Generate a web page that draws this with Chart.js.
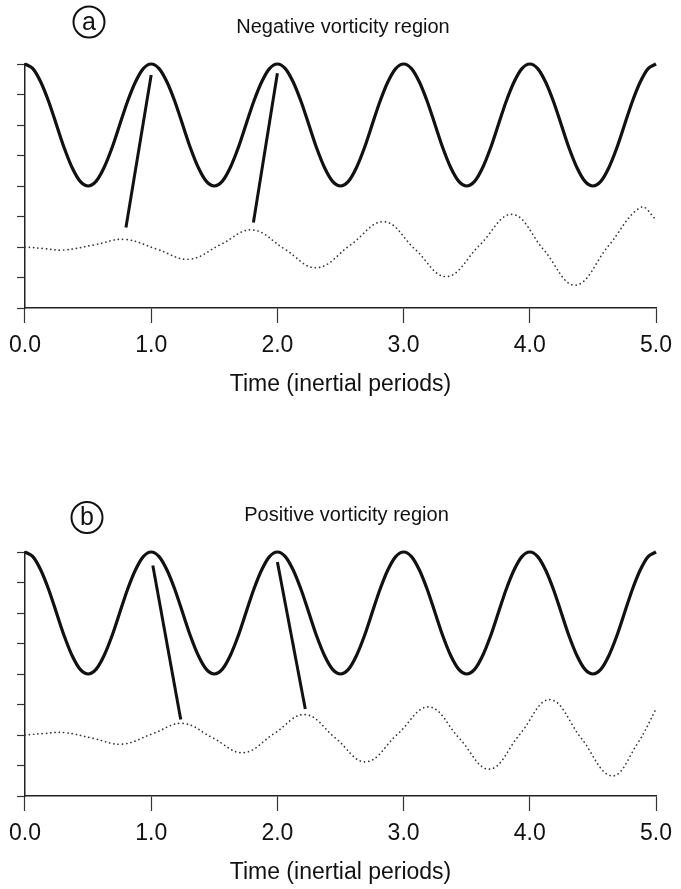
<!DOCTYPE html>
<html>
<head>
<meta charset="utf-8">
<script src="https://cdn.jsdelivr.net/npm/chart.js@4.4.0/dist/chart.umd.min.js"></script>
<style>
  body { margin: 0; background: #fff; width: 681px; height: 889px; position: relative; overflow: hidden; }
  .panel { position: absolute; left: 0; width: 681px; height: 400px; }
</style>
</head>
<body>
<div class="panel" style="top:0"><canvas id="chartA" width="681" height="400"></canvas></div>
<div class="panel" style="top:488px"><canvas id="chartB" width="681" height="400"></canvas></div>
<script>
// inertial oscillation (solid), same in both panels
const timeSolid = [
  0, 0.0625, 0.125, 0.1875, 0.25, 0.3125, 0.375, 0.4375, 0.5, 0.5625, 0.625, 0.6875, 0.75, 0.8125, 0.875, 0.9375,
  1, 1.0625, 1.125, 1.1875, 1.25, 1.3125, 1.375, 1.4375, 1.5, 1.5625, 1.625, 1.6875, 1.75, 1.8125, 1.875, 1.9375,
  2, 2.0625, 2.125, 2.1875, 2.25, 2.3125, 2.375, 2.4375, 2.5, 2.5625, 2.625, 2.6875, 2.75, 2.8125, 2.875, 2.9375,
  3, 3.0625, 3.125, 3.1875, 3.25, 3.3125, 3.375, 3.4375, 3.5, 3.5625, 3.625, 3.6875, 3.75, 3.8125, 3.875, 3.9375,
  4, 4.0625, 4.125, 4.1875, 4.25, 4.3125, 4.375, 4.4375, 4.5, 4.5625, 4.625, 4.6875, 4.75, 4.8125, 4.875, 4.9375,
  5];
const solidVals = [
  8, 7.85, 7.41, 6.77, 6, 5.23, 4.59, 4.15, 4, 4.15, 4.59, 5.23, 6, 6.77, 7.41, 7.85,
  8, 7.85, 7.41, 6.77, 6, 5.23, 4.59, 4.15, 4, 4.15, 4.59, 5.23, 6, 6.77, 7.41, 7.85,
  8, 7.85, 7.41, 6.77, 6, 5.23, 4.59, 4.15, 4, 4.15, 4.59, 5.23, 6, 6.77, 7.41, 7.85,
  8, 7.85, 7.41, 6.77, 6, 5.23, 4.59, 4.15, 4, 4.15, 4.59, 5.23, 6, 6.77, 7.41, 7.85,
  8, 7.85, 7.41, 6.77, 6, 5.23, 4.59, 4.15, 4, 4.15, 4.59, 5.23, 6, 6.77, 7.41, 7.85,
  8];

// (a) negative vorticity - dotted response
const timeNeg = [0, 0.15, 0.3, 0.55, 0.79, 1.045, 1.3, 1.55, 1.8, 2.055, 2.31, 2.58, 2.845, 3.09, 3.34, 3.6, 3.86, 4.11, 4.36, 4.62, 4.88, 5];
const valsNeg = [2.0, 1.95, 1.9, 2.07, 2.25, 1.93, 1.6, 2.08, 2.56, 1.94, 1.32, 2.07, 2.83, 1.93, 1.03, 2.05, 3.07, 1.91, 0.75, 2.02, 3.3, 2.9];

// (b) positive vorticity - dotted response
const timePos = [0, 0.15, 0.31, 0.54, 0.77, 1.01, 1.25, 1.49, 1.73, 1.975, 2.22, 2.46, 2.7, 2.95, 3.2, 3.44, 3.68, 3.92, 4.16, 4.405, 4.65, 4.85, 5];
const valsPos = [2.0, 2.05, 2.08, 1.89, 1.7, 2.04, 2.38, 1.9, 1.42, 2.05, 2.67, 1.9, 1.12, 2.02, 2.92, 1.9, 0.88, 2.02, 3.16, 1.91, 0.66, 1.7, 2.85];

// lines joining peaks
const linksNeg = [{ from: [0.80, 2.64], to: [1.0, 7.64] }, { from: [1.81, 2.80], to: [2.0, 7.70] }];
const linksPos = [{ from: [1.013, 7.56], to: [1.234, 2.51] }, { from: [2.0, 7.67], to: [2.221, 2.85] }];

const xTicks = [0, 1, 2, 3, 4, 5];
const yTicks = [0, 1, 2, 3, 4, 5, 6, 7, 8];

const FONT = '"Liberation Sans", Arial, Helvetica, sans-serif';
Chart.defaults.font.family = FONT;
Chart.defaults.color = '#111';

function pts(xs, ys) {
  return xs.map((x, i) => ({ x: x, y: ys[i] }));
}

// circled letter and heading above each panel
const panelText = {
  id: 'panelText',
  afterDraw(chart, args, o) {
    const ctx = chart.ctx;
    ctx.save();
    ctx.strokeStyle = '#111';
    ctx.lineWidth = 2;
    ctx.beginPath();
    ctx.arc(o.cx, o.cy, 15.5, 0, Math.PI * 2);
    ctx.stroke();
    ctx.fillStyle = '#111';
    ctx.textAlign = 'center';
    ctx.textBaseline = 'middle';
    ctx.font = '25px ' + FONT;
    ctx.fillText(o.letter, o.cx, o.cy + 1);
    ctx.textBaseline = 'alphabetic';
    ctx.font = '20px ' + FONT;
    ctx.fillText(o.title, o.tx, o.ty);
    ctx.restore();
  }
};

function makeChart(id, dotT, dotV, links, text) {
  const datasets = [
    { data: pts(timeSolid, solidVals), borderColor: '#111', borderWidth: 3.2, tension: 0.3 },
    { data: pts(dotT, dotV), borderColor: '#333', borderWidth: 1.7, borderDash: [0.1, 4.2], borderCapStyle: 'round', tension: 0.4 }
  ];
  links.forEach(function (l) {
    datasets.push({ data: [{ x: l.from[0], y: l.from[1] }, { x: l.to[0], y: l.to[1] }], borderColor: '#111', borderWidth: 3, tension: 0 });
  });
  return new Chart(document.getElementById(id), {
    type: 'line',
    data: { datasets: datasets },
    plugins: [panelText],
    options: {
      responsive: false,
      animation: false,
      events: [],
      layout: { padding: { top: 64, right: 18, left: 0, bottom: 0 } },
      elements: { point: { radius: 0 }, line: { fill: false } },
      datasets: { line: { clip: false } },
      plugins: { legend: { display: false }, tooltip: { enabled: false }, panelText: text },
      scales: {
        x: {
          type: 'linear', min: 0, max: 5,
          afterFit: function (s) { s.height = 92; },
          afterBuildTicks: function (s) { s.ticks = xTicks.map(v => ({ value: v })); },
          ticks: { callback: v => v.toFixed(1), font: { size: 23 }, color: '#111', padding: 9, maxRotation: 0, autoSkip: false },
          grid: { drawOnChartArea: false, tickLength: 15, tickColor: '#333', tickWidth: 1.2 },
          border: { color: '#222', width: 1.5 },
          title: { display: true, text: 'Time (inertial periods)', font: { size: 23 }, color: '#111', padding: { top: 0, bottom: 2 } }
        },
        y: {
          min: 0, max: 8,
          afterFit: function (s) { s.width = 22; },
          afterBuildTicks: function (s) { s.ticks = yTicks.map(v => ({ value: v })); },
          ticks: { display: false },
          grid: { drawOnChartArea: false, tickLength: 8, tickColor: '#333', tickWidth: 1.2 },
          border: { color: '#222', width: 1.5 }
        }
      }
    }
  });
}

makeChart('chartA', timeNeg, valsNeg, linksNeg, { letter: 'a', cx: 89, cy: 22, title: 'Negative vorticity region', tx: 343, ty: 33 });
makeChart('chartB', timePos, valsPos, linksPos, { letter: 'b', cx: 87, cy: 29.5, title: 'Positive vorticity region', tx: 346.5, ty: 32.7 });
</script>
</body>
</html>
